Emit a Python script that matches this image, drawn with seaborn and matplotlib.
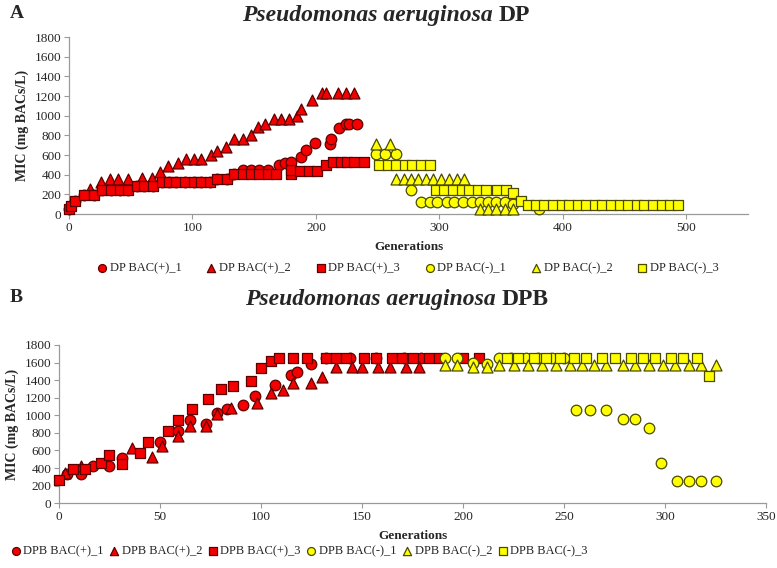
import matplotlib
matplotlib.use('Agg')
import matplotlib.pyplot as plt
import seaborn as sns

sns.set_style('white')
plt.rcParams['font.family'] = ['Liberation Serif', 'DejaVu Serif']

# ---------------- Panel A: Pseudomonas aeruginosa DP ----------------
dp_pos1_gen = [0, 5, 12, 20, 27, 34, 41, 48, 55, 61, 68, 75, 81, 87, 94, 101, 107, 114, 120, 128,
               134, 141, 147, 154, 161, 170, 175, 180, 188, 192, 199, 211, 212, 219, 224, 227, 233]
dp_pos1_mic = [51, 130, 198, 198, 246, 246, 246, 246, 291, 291, 291, 325, 325, 325, 325, 325, 325, 325, 359, 359,
               410, 451, 451, 451, 451, 496, 520, 531, 582, 657, 724, 717, 768, 880, 914, 914, 914]

dp_pos2_gen = [17, 26, 33, 40, 48, 59, 67, 74, 80, 88, 95, 101, 107, 115, 120, 127, 134, 141, 147, 153,
               159, 166, 172, 178, 185, 188, 197, 205, 208, 218, 224, 231]
dp_pos2_mic = [256, 325, 359, 359, 359, 369, 369, 427, 485, 520, 564, 564, 564, 598, 643, 684, 769, 769, 803, 889,
               913, 964, 964, 964, 998, 1073, 1157, 1232, 1232, 1232, 1232, 1232]

dp_pos3_gen = [0, 2, 5, 12, 20, 27, 34, 41, 48, 55, 61, 68, 75, 81, 87, 94, 101, 107, 114, 120,
               128, 134, 141, 147, 154, 161, 168, 180, 180, 187, 194, 201, 208, 214, 220, 225, 231, 239]
dp_pos3_mic = [51, 85, 130, 198, 198, 246, 246, 246, 246, 291, 291, 291, 325, 325, 325, 325, 325, 325, 325, 359,
               359, 410, 410, 410, 410, 410, 410, 410, 444, 437, 437, 440, 497, 528, 528, 528, 528, 528]

dp_neg1_gen = [249, 256, 265, 277, 285, 292, 298, 306, 312, 319, 326, 333, 339, 346, 353, 360, 381]
dp_neg1_mic = [609, 609, 609, 244, 125, 125, 125, 125, 125, 125, 125, 125, 125, 125, 125, 108, 48]

dp_neg2_gen = [249, 260, 265, 271, 277, 283, 289, 295, 301, 308, 314, 320, 333, 339, 346, 353, 360]
dp_neg2_mic = [717, 717, 362, 362, 362, 362, 362, 362, 362, 362, 362, 362, 48, 48, 48, 48, 48]

dp_neg3_gen = [251, 258, 265, 272, 278, 285, 292, 297, 304, 311, 318, 324, 331, 338, 347, 354, 360, 366,
               372, 378, 385, 392, 399, 405, 412, 419, 426, 432, 439, 446, 453, 460, 466, 473, 480, 487, 493]
dp_neg3_mic = [497, 497, 497, 497, 497, 497, 497, 250, 250, 250, 250, 250, 250, 250, 250, 250, 210, 135,
               91, 91, 91, 91, 91, 91, 91, 91, 91, 91, 91, 91, 91, 91, 91, 91, 91, 91, 91]

# ---------------- Panel B: Pseudomonas aeruginosa DPB ----------------
dpb_pos1_gen = [4, 11, 17, 25, 31, 50, 59, 65, 73, 78, 83, 91, 97, 107, 115, 118, 125, 132, 144, 157, 171, 179]
dpb_pos1_mic = [330, 333, 424, 424, 511, 701, 826, 947, 902, 1030, 1069, 1118, 1220, 1345, 1459, 1497, 1580,
                1650, 1650, 1650, 1650, 1650]

dpb_pos2_gen = [3, 11, 36, 46, 51, 59, 65, 73, 78, 85, 98, 105, 111, 116, 125, 130, 137, 145, 150, 158, 164, 172, 178]
dpb_pos2_mic = [341, 424, 625, 530, 652, 765, 879, 879, 1015, 1080, 1137, 1251, 1288, 1364, 1372, 1440,
                1553, 1553, 1553, 1553, 1553, 1553, 1553]

dpb_pos3_gen = [0, 7, 13, 21, 25, 31, 40, 44, 54, 59, 66, 74, 80, 86, 95, 100, 105, 109, 116, 123,
                132, 137, 142, 151, 157, 165, 170, 175, 183, 188, 200, 208]
dpb_pos3_mic = [265, 386, 386, 462, 549, 447, 576, 701, 826, 947, 1069, 1183, 1296, 1337, 1394, 1535, 1622,
                1650, 1650, 1650, 1650, 1650, 1650, 1650, 1650, 1650, 1650, 1650, 1650, 1650, 1650, 1650]

dpb_neg1_gen = [191, 197, 205, 212, 218, 224, 231, 237, 244, 250, 256, 263, 271, 279, 285, 292, 298, 306, 312, 318, 325]
dpb_neg1_mic = [1650, 1650, 1590, 1580, 1650, 1650, 1650, 1650, 1650, 1650, 1061, 1061, 1061, 959, 959, 860,
                455, 257, 257, 257, 257]

dpb_neg2_gen = [191, 197, 205, 212, 218, 225, 232, 239, 246, 253, 259, 265, 271, 279, 285, 292, 299, 305, 312, 318, 325]
dpb_neg2_mic = [1570, 1570, 1550, 1550, 1570, 1570, 1570, 1570, 1570, 1570, 1570, 1570, 1570, 1570, 1570,
                1570, 1570, 1570, 1570, 1570, 1570]

dpb_neg3_gen = [222, 227, 235, 241, 248, 255, 261, 269, 275, 283, 289, 295, 303, 309, 316, 322]
dpb_neg3_mic = [1650, 1650, 1650, 1650, 1650, 1650, 1650, 1650, 1650, 1650, 1650, 1650, 1650, 1650, 1650, 1450]

rojo, borde_rojo = '#f40000', '#5e0000'
amarillo, borde_amarillo = '#ffff00', '#4a4a00'
marcadores = ['o', '^', 's', 'o', '^', 's']
tamanos = [58, 62, 52, 58, 62, 52]
rellenos = [rojo] * 3 + [amarillo] * 3
bordes = [borde_rojo] * 3 + [borde_amarillo] * 3


def dibujar(ax, series, etiquetas):
    for i, (gen, mic) in enumerate(series):
        sns.scatterplot(x=gen, y=mic, marker=marcadores[i], s=tamanos[i], color=rellenos[i],
                        edgecolor=bordes[i], linewidth=0.9, label=etiquetas[i], ax=ax,
                        clip_on=False, zorder=3 + i, legend=False)


def estilo_ejes(ax, xmax, xpaso):
    ax.set_xlim(0, xmax)
    ax.set_ylim(0, 1800)
    ax.set_yticks(range(0, 1801, 200))
    ax.set_xticks(range(0, xmax + 1, xpaso) if xmax % xpaso == 0 else range(0, xmax, xpaso))
    for lado in ['top', 'right']:
        ax.spines[lado].set_visible(False)
    for lado in ['left', 'bottom']:
        ax.spines[lado].set_color('#9a9a9a')
        ax.spines[lado].set_linewidth(0.9)
    ax.tick_params(axis='both', direction='out', length=3.5, width=0.8, color='#9a9a9a',
                   labelsize=9.5, pad=2, left=True, bottom=True)
    ax.set_xlabel('Generations', fontsize=9.5, fontweight='bold', labelpad=5)
    ax.set_ylabel('MIC (mg BACs/L)', fontsize=10, fontweight='bold', labelpad=4)


fig = plt.figure(figsize=(7.77, 5.68), dpi=100)
ax_a = fig.add_axes([0.0888, 0.623, 0.874, 0.3116])
ax_b = fig.add_axes([0.0759, 0.114, 0.910, 0.2787])

dibujar(ax_a, [(dp_pos1_gen, dp_pos1_mic), (dp_pos2_gen, dp_pos2_mic), (dp_pos3_gen, dp_pos3_mic),
               (dp_neg1_gen, dp_neg1_mic), (dp_neg2_gen, dp_neg2_mic), (dp_neg3_gen, dp_neg3_mic)],
        ['DP BAC(+)_1', 'DP BAC(+)_2', 'DP BAC(+)_3', 'DP BAC(-)_1', 'DP BAC(-)_2', 'DP BAC(-)_3'])
dibujar(ax_b, [(dpb_pos1_gen, dpb_pos1_mic), (dpb_pos2_gen, dpb_pos2_mic), (dpb_pos3_gen, dpb_pos3_mic),
               (dpb_neg1_gen, dpb_neg1_mic), (dpb_neg2_gen, dpb_neg2_mic), (dpb_neg3_gen, dpb_neg3_mic)],
        ['DPB BAC(+)_1', 'DPB BAC(+)_2', 'DPB BAC(+)_3', 'DPB BAC(-)_1', 'DPB BAC(-)_2', 'DPB BAC(-)_3'])

estilo_ejes(ax_a, 550, 100)
estilo_ejes(ax_b, 350, 50)

ax_a.legend(loc='center', bbox_to_anchor=(0.525, 0.528), bbox_transform=fig.transFigure, ncol=6,
            frameon=False, fontsize=9, handlelength=0.8, handletextpad=0.2, columnspacing=2.0,
            markerscale=0.75)
ax_b.legend(loc='center', bbox_to_anchor=(0.385, 0.03), bbox_transform=fig.transFigure, ncol=6,
            frameon=False, fontsize=9, handlelength=0.8, handletextpad=0.2, columnspacing=0.45,
            markerscale=0.75, borderpad=0.1)

# Letras de panel
fig.text(10 / 777, 1 - 14 / 568, 'A', fontsize=14, fontweight='bold', va='center', ha='left')
fig.text(10 / 777, 1 - 298 / 568, 'B', fontsize=14, fontweight='bold', va='center', ha='left')

# Titulos: nombre en cursiva negrita + cepa en negrita
fig.canvas.draw()
renderer = fig.canvas.get_renderer()
for x_fin, y_base, cepa in [(493, 21, 'DP'), (496, 305, 'DPB')]:
    t = fig.text(x_fin / 777, 1 - y_base / 568, 'Pseudomonas aeruginosa', fontsize=17,
                 fontweight='bold', fontstyle='italic', ha='right', va='baseline')
    bb = t.get_window_extent(renderer=renderer)
    fig.text((bb.x1 + 6) / fig.bbox.width, 1 - y_base / 568, cepa, fontsize=17,
             fontweight='bold', ha='left', va='baseline')

fig.savefig('out.png', dpi=100)
